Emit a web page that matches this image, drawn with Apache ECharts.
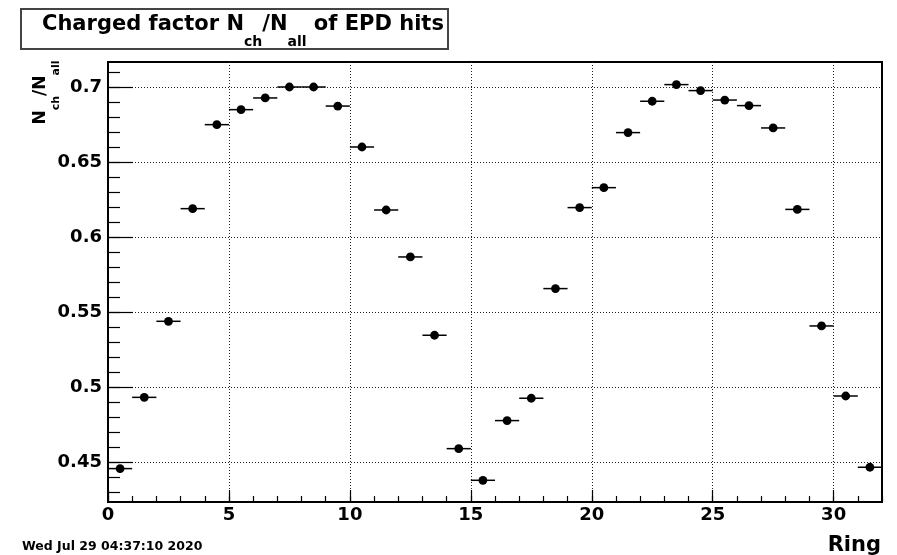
<!DOCTYPE html>
<html>
<head>
<meta charset="utf-8">
<script src="https://cdn.jsdelivr.net/npm/echarts@6/dist/echarts.min.js"></script>
<style>
html,body{margin:0;padding:0;background:#fff;}
#chart{width:897px;height:555px;}
</style>
</head>
<body>
<div id="chart"></div>
<script>
// ---- data ----
const ringCenters = [0.5, 1.5, 2.5, 3.5, 4.5, 5.5, 6.5, 7.5, 8.5, 9.5, 10.5, 11.5, 12.5, 13.5, 14.5, 15.5,
  16.5, 17.5, 18.5, 19.5, 20.5, 21.5, 22.5, 23.5, 24.5, 25.5, 26.5, 27.5, 28.5, 29.5, 30.5, 31.5];
const chargedFactor = [0.4456, 0.4931, 0.5438, 0.6189, 0.6749, 0.6849, 0.6927, 0.7000, 0.7000, 0.6873,
  0.6600, 0.6180, 0.5867, 0.5345, 0.4589, 0.4378, 0.4776, 0.4925, 0.5656, 0.6196, 0.6329, 0.6696,
  0.6905, 0.7016, 0.6976, 0.6913, 0.6876, 0.6727, 0.6184, 0.5407, 0.4940, 0.4465];
const binHalfWidth = 0.5;
const xMajorTicks = [0, 5, 10, 15, 20, 25, 30];
const xMinorTicks = [0, 1, 2, 3, 4, 5, 6, 7, 8, 9, 10, 11, 12, 13, 14, 15, 16, 17, 18, 19, 20,
  21, 22, 23, 24, 25, 26, 27, 28, 29, 30, 31, 32];
const yMajorTicks = [0.45, 0.5, 0.55, 0.6, 0.65, 0.7];
const yMinorTicks = [0.43, 0.44, 0.45, 0.46, 0.47, 0.48, 0.49, 0.5, 0.51, 0.52, 0.53, 0.54, 0.55,
  0.56, 0.57, 0.58, 0.59, 0.6, 0.61, 0.62, 0.63, 0.64, 0.65, 0.66, 0.67, 0.68, 0.69, 0.7, 0.71];
const xRange = [0, 32];
const yRange = [0.42333, 0.71667];
const titleText = ['Charged factor N', 'ch', '/N', 'all', ' of EPD hits'];
const yTitleText = ['N', 'ch', '/N', 'all'];
const xTitle = 'Ring';
const dateText = 'Wed Jul 29 04:37:10 2020';

// ---- chart ----
const FONT = 'DejaVu Sans';
const points = ringCenters.map((x, i) => [x, chargedFactor[i]]);
const chart = echarts.init(document.getElementById('chart'), null, {renderer: 'canvas'});

const labelFmt = v => String(Math.round(v * 1000) / 1000);

chart.setOption({
  animation: false,
  backgroundColor: '#fff',
  grid: [
    {left: 108, top: 62, width: 774, height: 440, show: true, borderColor: '#000', borderWidth: 2, backgroundColor: 'transparent'},
    {left: 108, top: 62, width: 774, height: 440, show: false}
  ],
  xAxis: [
    {
      type: 'value', gridIndex: 0, min: xRange[0], max: xRange[1], position: 'bottom',
      axisLine: {show: true, onZero: false, lineStyle: {color: '#000', width: 2}},
      axisTick: {show: true, inside: true, length: 12, customValues: xMajorTicks, lineStyle: {color: '#000', width: 1.2}},
      axisLabel: {show: true, customValues: xMajorTicks, margin: 4, color: '#000', fontFamily: FONT, fontWeight: 'bold', fontSize: 18, formatter: labelFmt},
      splitLine: {show: true, lineStyle: {color: '#222', width: 1, type: [1, 2]}}
    },
    {
      type: 'value', gridIndex: 1, min: xRange[0], max: xRange[1], position: 'bottom',
      axisLine: {show: false},
      axisTick: {show: true, inside: true, length: 6, customValues: xMinorTicks, lineStyle: {color: '#000', width: 1.2}},
      axisLabel: {show: false},
      splitLine: {show: false}
    }
  ],
  yAxis: [
    {
      type: 'value', gridIndex: 0, min: yRange[0], max: yRange[1], position: 'left',
      axisLine: {show: true, onZero: false, lineStyle: {color: '#000', width: 2}},
      axisTick: {show: true, inside: true, length: 25, customValues: yMajorTicks, lineStyle: {color: '#000', width: 1.2}},
      axisLabel: {show: true, customValues: yMajorTicks, margin: 6, color: '#000', fontFamily: FONT, fontWeight: 'bold', fontSize: 18, formatter: labelFmt},
      splitLine: {show: true, lineStyle: {color: '#222', width: 1, type: [1, 2]}}
    },
    {
      type: 'value', gridIndex: 1, min: yRange[0], max: yRange[1], position: 'left',
      axisLine: {show: false},
      axisTick: {show: true, inside: true, length: 12, customValues: yMinorTicks, lineStyle: {color: '#000', width: 1.2}},
      axisLabel: {show: false},
      splitLine: {show: false}
    }
  ],
  series: [{
    type: 'custom',
    xAxisIndex: 0,
    yAxisIndex: 0,
    clip: true,
    data: points,
    renderItem: function (params, api) {
      const x = api.value(0), y = api.value(1);
      const p0 = api.coord([x - binHalfWidth, y]);
      const p1 = api.coord([x + binHalfWidth, y]);
      const c = api.coord([x, y]);
      return {
        type: 'group',
        children: [
          {type: 'line', shape: {x1: p0[0], y1: p0[1], x2: p1[0], y2: p1[1]}, style: {stroke: '#000', lineWidth: 1.5}},
          {type: 'circle', shape: {cx: c[0], cy: c[1], r: 4.4}, style: {fill: '#000'}}
        ]
      };
    }
  }],
  graphic: [
    {type: 'rect', shape: {x: 21, y: 9, width: 427, height: 40}, style: {fill: '#fff', stroke: '#444', lineWidth: 2}},
    {
      type: 'text', x: 42, y: 14.5,
      style: {
        text: '{m|' + titleText[0] + '}{s|' + titleText[1] + '}{m|' + titleText[2] + '}{s|' + titleText[3] + '}{m|' + titleText[4] + '}',
        align: 'left', verticalAlign: 'top', textAlign: 'left', textVerticalAlign: 'top',
        rich: {
          m: {fontFamily: FONT, fontWeight: 'bold', fontSize: 21, lineHeight: 26, verticalAlign: 'top', fill: '#000'},
          s: {fontFamily: FONT, fontWeight: 'bold', fontSize: 14, lineHeight: 14, padding: [20.5, 0, 0, 0], verticalAlign: 'top', fill: '#000'}
        }
      }
    },
    {
      type: 'text', x: 32, y: 92.5, rotation: Math.PI / 2,
      style: {
        text: '{m|' + yTitleText[0] + '}{s|' + yTitleText[1] + '}{m|' + yTitleText[2] + '}{s|' + yTitleText[3] + '}',
        align: 'center', verticalAlign: 'top', textAlign: 'center', textVerticalAlign: 'top',
        rich: {
          m: {fontFamily: FONT, fontWeight: 'bold', fontSize: 17, lineHeight: 20, verticalAlign: 'top', fill: '#000'},
          s: {fontFamily: FONT, fontWeight: 'bold', fontSize: 11, lineHeight: 11, padding: [18.5, 0, 0, 0], verticalAlign: 'top', fill: '#000'}
        }
      }
    },
    {
      type: 'text', x: 881, y: 545.2,
      style: {text: xTitle, font: 'bold 21px "DejaVu Sans"', fill: '#000', align: 'right', verticalAlign: 'middle', textAlign: 'right', textVerticalAlign: 'middle'}
    },
    {
      type: 'text', x: 22, y: 546.5,
      style: {text: dateText, font: 'bold 12.5px "DejaVu Sans"', fill: '#000', align: 'left', verticalAlign: 'middle', textAlign: 'left', textVerticalAlign: 'middle'}
    }
  ]
});
</script>
</body>
</html>
